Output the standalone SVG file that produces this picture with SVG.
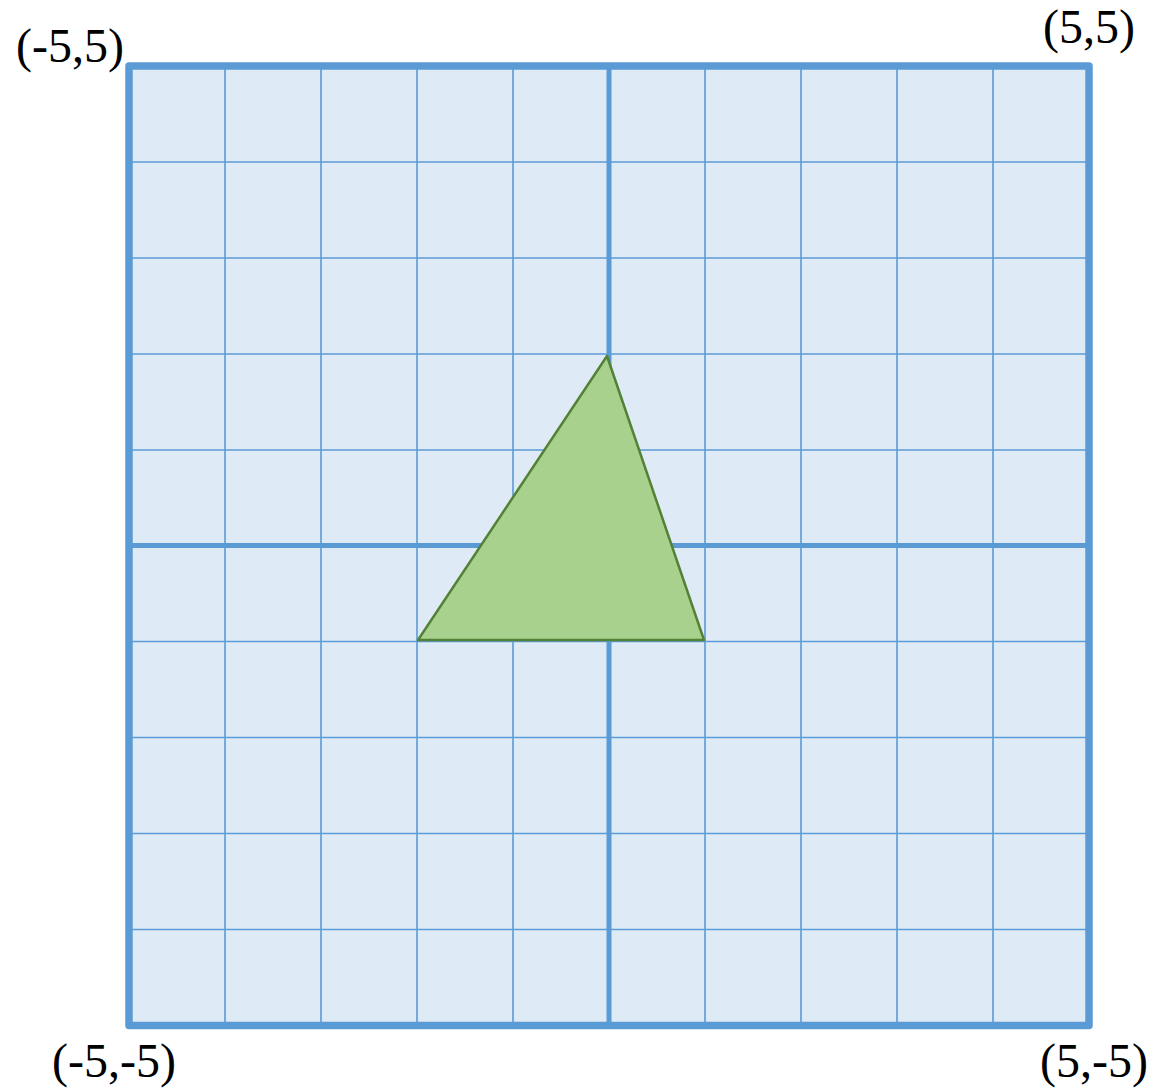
<svg xmlns="http://www.w3.org/2000/svg" width="1171" height="1091" viewBox="0 0 1171 1091">
<style>
.thin{stroke:#5B9BD5;stroke-width:1.6;fill:none}
.axis{stroke:#5B9BD5;stroke-width:5;fill:none}
.lbl{font-family:"Liberation Serif","Times New Roman",serif;font-size:48px;fill:#000}
</style>
<rect width="1171" height="1091" fill="#fff"/>
<g id="grid">
<rect x="129" y="66" width="960" height="959.5" fill="#DEEBF7"/>
<g class="thin">
<line x1="225" y1="66" x2="225" y2="1025.5"/>
<line x1="321" y1="66" x2="321" y2="1025.5"/>
<line x1="417" y1="66" x2="417" y2="1025.5"/>
<line x1="513" y1="66" x2="513" y2="1025.5"/>
<line x1="705" y1="66" x2="705" y2="1025.5"/>
<line x1="801" y1="66" x2="801" y2="1025.5"/>
<line x1="897" y1="66" x2="897" y2="1025.5"/>
<line x1="993" y1="66" x2="993" y2="1025.5"/>
<line x1="129" y1="162" x2="1089" y2="162"/>
<line x1="129" y1="258" x2="1089" y2="258"/>
<line x1="129" y1="354" x2="1089" y2="354"/>
<line x1="129" y1="450" x2="1089" y2="450"/>
<line x1="129" y1="641.5" x2="1089" y2="641.5"/>
<line x1="129" y1="737.5" x2="1089" y2="737.5"/>
<line x1="129" y1="833.5" x2="1089" y2="833.5"/>
<line x1="129" y1="929.5" x2="1089" y2="929.5"/>
</g>
<line class="axis" x1="609" y1="66" x2="609" y2="1025.5"/>
<line class="axis" x1="129" y1="545.5" x2="1089" y2="545.5"/>
<rect x="129" y="66" width="960" height="959.5" fill="none" stroke="#5B9BD5" stroke-width="7.5" stroke-linejoin="round"/>
</g>
<g id="triangle">
<polygon points="607,356 418,640 704,640" fill="#A9D18E" stroke="#538135" stroke-width="2.5" stroke-linejoin="round"/>
</g>
<g id="labels">
<text class="lbl" x="16" y="62">(-5,5)</text>
<text class="lbl" x="1043" y="43">(5,5)</text>
<text class="lbl" x="52" y="1077">(-5,-5)</text>
<text class="lbl" x="1040" y="1077">(5,-5)</text>
</g>
</svg>
